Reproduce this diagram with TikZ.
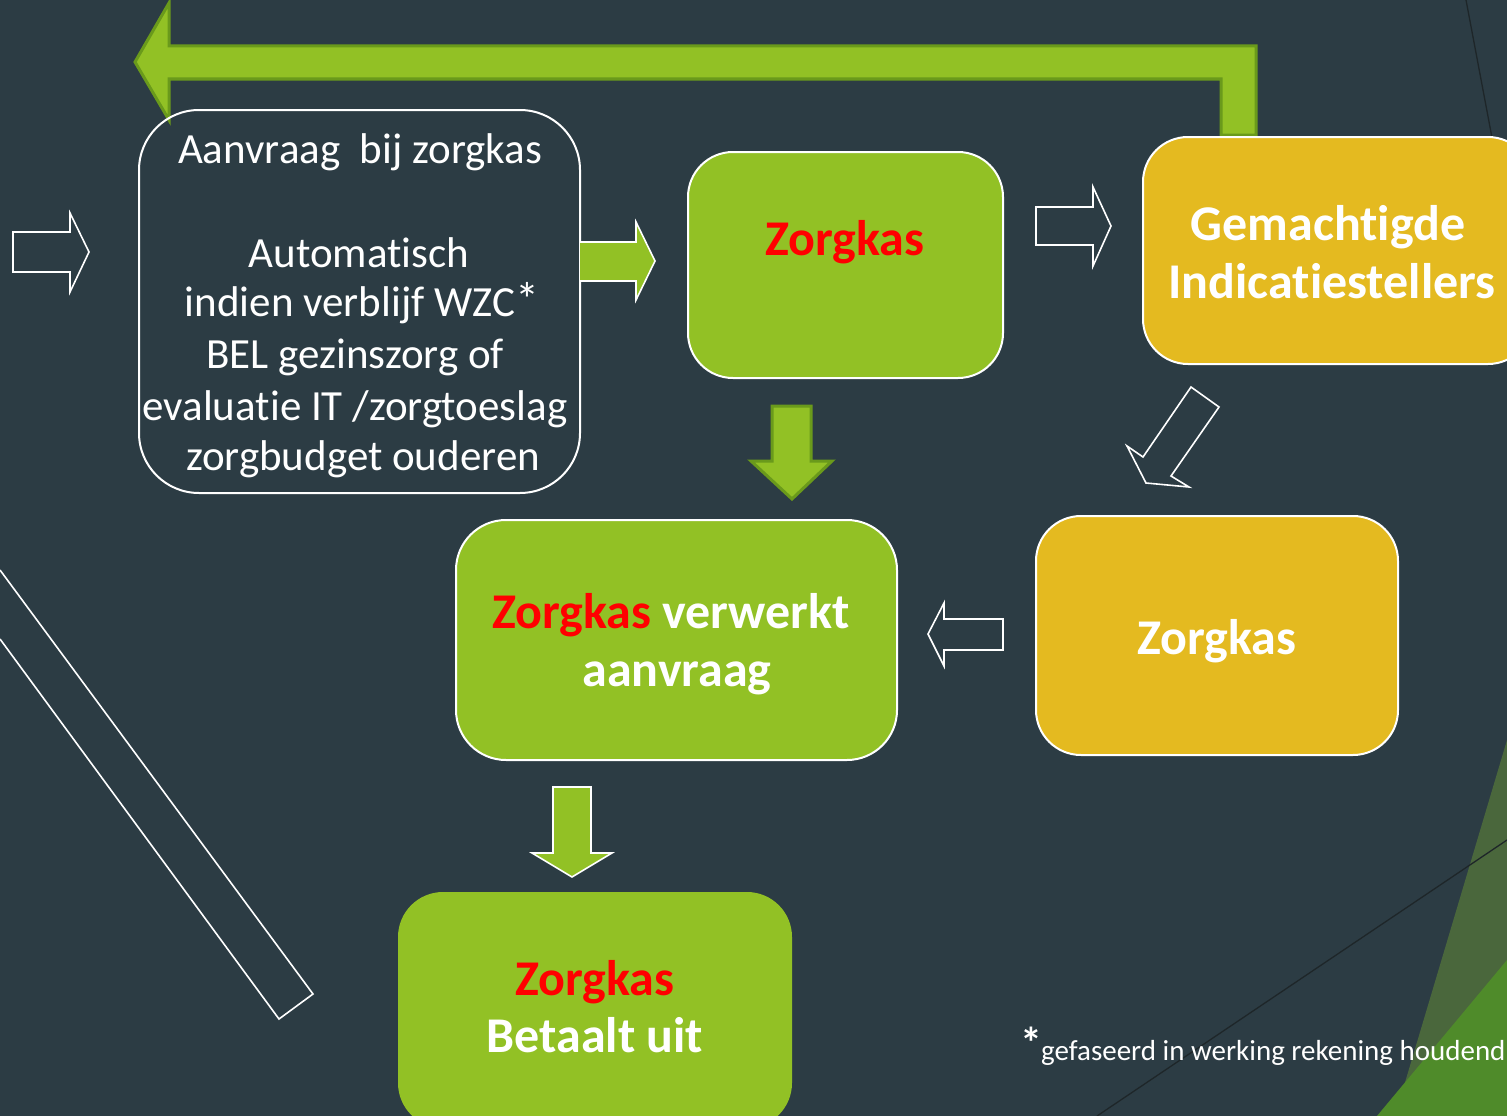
\documentclass[tikz,border=0pt]{standalone}
\usepackage{fontspec}
\setmainfont{Carlito}[Ligatures={NoCommon}]
\definecolor{bgc}{HTML}{2C3C44}
\definecolor{zgreen}{HTML}{92C125}
\definecolor{dgreen}{HTML}{6A9A1B}
\definecolor{zyellow}{HTML}{E4BA20}
\definecolor{olivec}{HTML}{4A673C}
\definecolor{brightg}{HTML}{4F8B2A}
\definecolor{linec}{HTML}{1E2629}
\begin{document}
\begin{tikzpicture}[x=1pt,y=-1pt,
  card/.style={rounded corners=#1, line width=2pt, inner sep=0pt, outer sep=0pt},
  greenbox/.style={card=#1, fill=zgreen, draw=white},
  yellowbox/.style={card=#1, fill=zyellow, draw=white},
  outlinearrow/.style={draw=white, line width=1.6pt, line join=miter},
  greenarrowW/.style={fill=zgreen, draw=white, line width=1.6pt},
  greenarrowD/.style={fill=zgreen, draw=dgreen, line width=3pt},
  lighttext/.style={text=white, font=\fontsize{43}{51}\selectfont, inner sep=0pt, anchor=base},
  boldtext/.style={text=white, font=\fontsize{50}{58}\selectfont\bfseries, inner sep=0pt, anchor=base}
]
\fill[bgc] (0,0) rectangle (1507,1116);
\useasboundingbox (0,0) rectangle (1507,1116);
\clip (0,0) rectangle (1507,1116);

% background decoration
\fill[olivec] (1507,740) -- (1395,1116) -- (1507,1116) -- cycle;
\fill[brightg] (1507,960) -- (1377,1116) -- (1507,1116) -- cycle;
\draw[linec, line width=1.3pt] (1097,1116) -- (1507,840);
\draw[linec, line width=1.3pt] (1466,0) -- (1500,180);
\draw[white, line width=1.6pt, line join=miter] (0,570) -- (313,994) -- (279,1019) -- (0,639);

% top return arrow
\draw[greenarrowD, line join=miter] (135,62) -- (169,3) -- (169,46) -- (1256,46) -- (1256,135)
  -- (1221,135) -- (1221,79) -- (169,79) -- (169,120) -- cycle;

% boxes
\node[card=60pt, draw=white, minimum width=441pt, minimum height=383pt] (aanv) at (359.5,301.5) {};
\node[greenbox=45pt, minimum width=315pt, minimum height=226pt] (zk1) at (845.5,265) {};
\node[yellowbox=45pt, minimum width=390pt, minimum height=227pt] (gem) at (1338,250.5) {};
\node[yellowbox=45pt, minimum width=362pt, minimum height=239pt] (zk2) at (1217,635.5) {};
\node[greenbox=50pt, minimum width=441pt, minimum height=240pt] (verw) at (676.5,640) {};
\node[card=45pt, fill=zgreen, minimum width=394pt, minimum height=236pt] (bet) at (595,1010) {};

% arrows
\draw[outlinearrow] (13,232) -- (70,232) -- (70,213) -- (89,252) -- (70,292) -- (70,272) -- (13,272) -- cycle;
\draw[greenarrowW] (580,242) -- (636,242) -- (636,222) -- (655,261) -- (636,300) -- (636,281) -- (580,281);
\draw[outlinearrow] (1036,207) -- (1093,207) -- (1093,187) -- (1111,226) -- (1093,266) -- (1093,245) -- (1036,245) -- cycle;
\draw[greenarrowD, line join=miter] (772,406) -- (811,406) -- (811,461) -- (832,461) -- (792,499) -- (751,461) -- (772,461) -- cycle;
\draw[outlinearrow] (1191,387) -- (1219,407) -- (1171,476) -- (1189,487) -- (1146,483) -- (1127,446) -- (1143,457) -- cycle;
\draw[outlinearrow] (1003,619) -- (944,619) -- (944,603) -- (928,634) -- (944,666) -- (944,650) -- (1003,650) -- cycle;
\draw[greenarrowW] (553,787) -- (591,787) -- (591,853) -- (612,853) -- (572,877) -- (532,853) -- (553,853) -- cycle;

% texts of the first box
\node[lighttext] (a1) at (360,163) {Aanvraag\ \ bij zorgkas};
\node[lighttext] (a2) at (359,267) {Automatisch};
\node[lighttext] (a3) at (362,316) {indien verblijf WZC{\fontsize{48}{51}\selectfont*}};
\node[lighttext] (a4) at (355,368) {BEL gezinszorg of};
\node[lighttext] (a5) at (355,420) {evaluatie IT /zorgtoeslag};
\node[lighttext] (a6) at (363,470) {zorgbudget ouderen};

% bold labels
\node[boldtext, text=red] (t1) at (845,255) {Zorgkas};
\node[boldtext] (t2) at (1328,240) {Gemachtigde};
\node[boldtext] (t3) at (1332,298) {Indicatiestellers};
\node[boldtext] (t4) at (1217,654) {Zorgkas};
\node[boldtext] (t5) at (671,628) {\textcolor{red}{Zorgkas} verwerkt};
\node[boldtext] (t6) at (677,686) {aanvraag};
\node[boldtext, text=red] (t7) at (595,995) {Zorgkas};
\node[boldtext] (t8) at (595,1052) {Betaalt uit};

% footnote
\node[text=white, font=\fontsize{44}{48}\selectfont\bfseries, inner sep=0pt, anchor=base] (star) at (1031,1058) {*};
\node[text=white, font=\fontsize{29}{34}\selectfont, inner sep=0pt, anchor=base west] (foot) at (1041,1060) {gefaseerd in werking rekening houdend};
\end{tikzpicture}
\end{document}
